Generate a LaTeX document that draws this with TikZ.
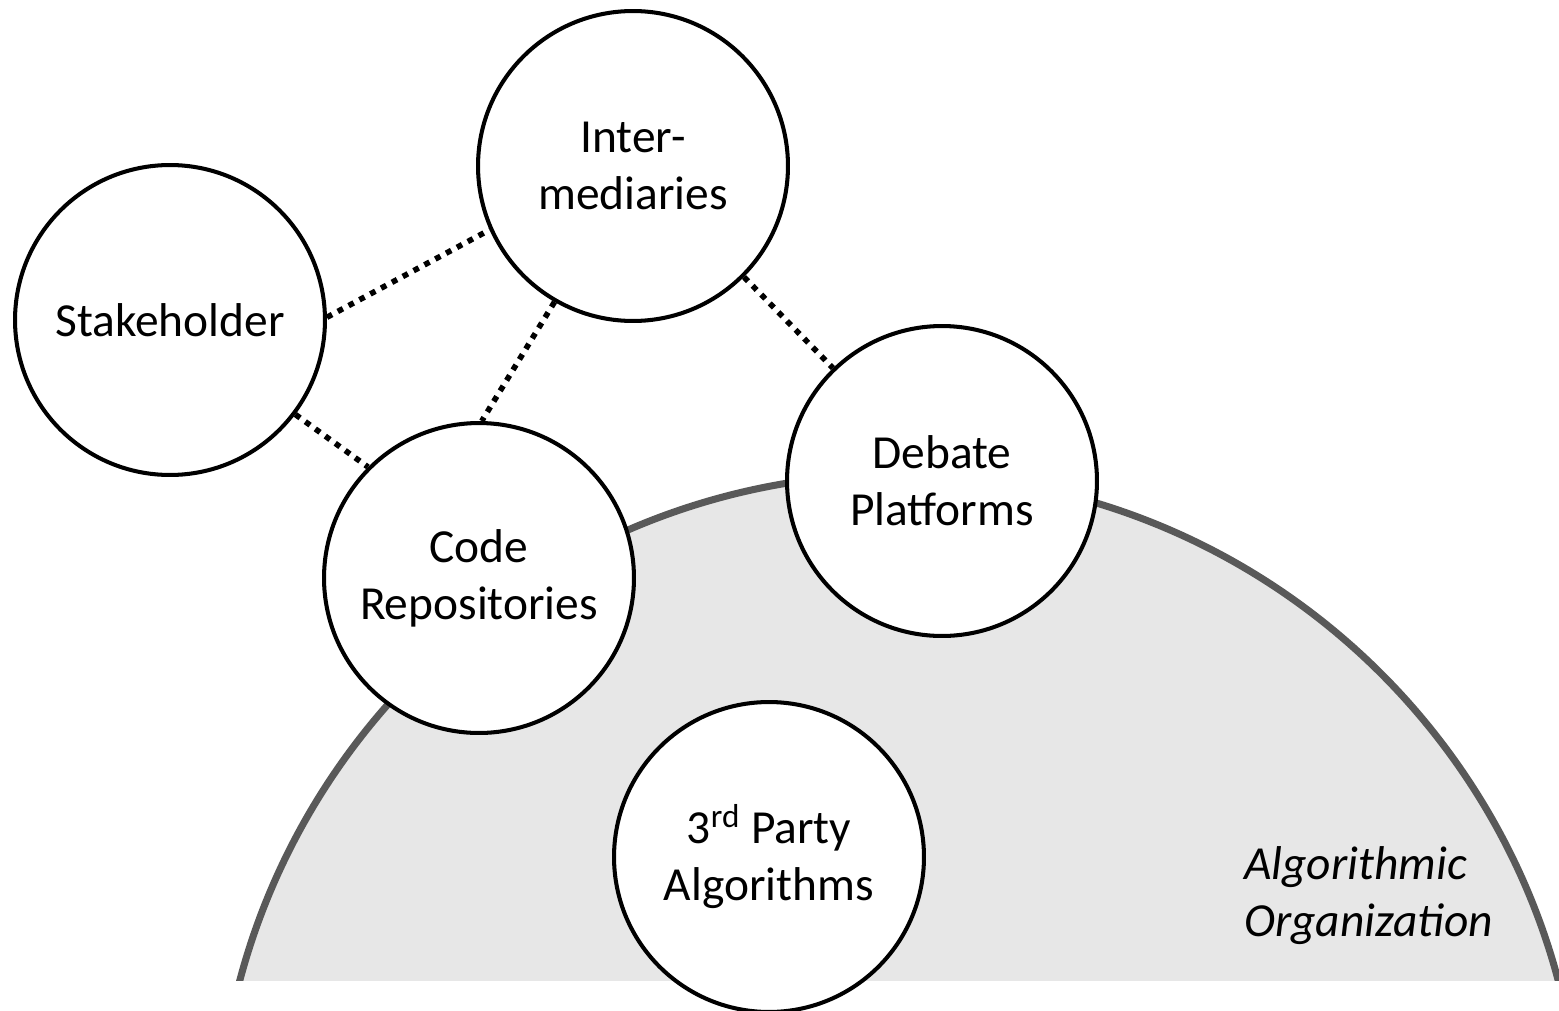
\documentclass[tikz,border=0pt]{standalone}
\usepackage{fontspec}
\setmainfont{Carlito}
\usepackage{tikz}
\definecolor{orgfill}{HTML}{E7E7E7}
\definecolor{orgline}{HTML}{595959}
\tikzset{
  akteur/.style={circle, draw, line width=2.3pt, fill=white, minimum size=6.2cm,
    inner sep=0pt, align=center, font=\fontsize{27}{32.5}\selectfont},
  verbindung/.style={line width=3.2pt, dash pattern=on 3.3pt off 3.7pt}
}

\begin{document}
\begin{tikzpicture}[x=0.02cm, y=-0.02cm]
        \useasboundingbox (0,0) rectangle (1559,1011);

        % Organisation
        \begin{scope}
            \clip (0,0) rectangle (1559,980);
            \draw[orgline, fill=orgfill, line width=4pt] (899,1156) circle [radius=682];
        \end{scope}
        \node[anchor=west, align=left, font=\fontsize{27}{32.5}\selectfont\itshape] (org) at (1238,896) {Algorithmic\\Organization};

        % Akteure
        \node[akteur] (stake) at (170,320) {Stakeholder};
        \node[akteur] (inter) at (633,166) {Inter-\\mediaries};
        \node[akteur] (code) at (479,578) {Code\\Repositories};
        \node[akteur] (debate) at (942,481) {Debate\\Platforms};
        \node[akteur] (third) at (769,857) {3\textsuperscript{rd} Party\\Algorithms};

        % Verbindungen
        \foreach \a/\b in {stake.1/inter.204, stake.-37/code.135, inter.240/code.89, inter.-45/debate.134}
            \draw[verbindung] (\a) -- (\b);
\end{tikzpicture}
\end{document}
